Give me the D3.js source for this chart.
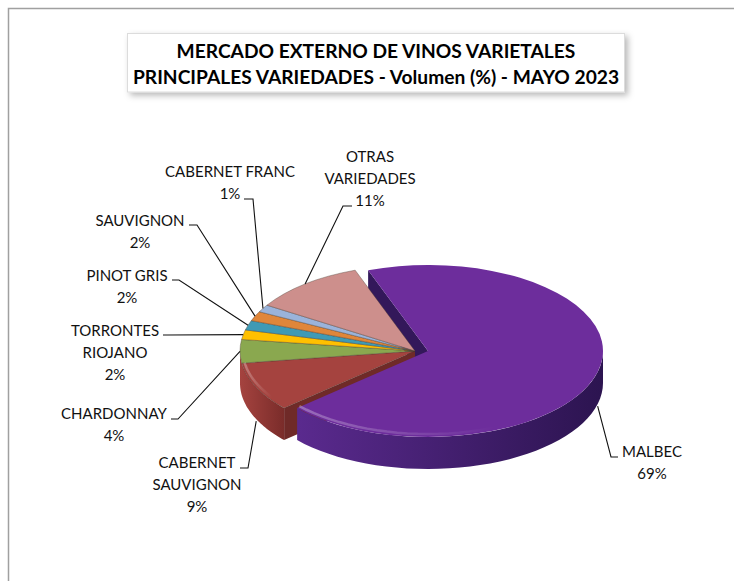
<!DOCTYPE html>
<html>
<head>
<meta charset="utf-8">
<script src="https://cdn.jsdelivr.net/npm/d3@7"></script>
<style>
body { margin: 0; background: #fff; }
svg { display: block; }
text { font-family: Lato, "Open Sans", sans-serif; fill: #111; }
.lab { font-size: 15px; }
.ttl { font-size: 19.2px; font-weight: 700; fill: #000; }
.leader { fill: none; stroke: #111; stroke-width: 1.1; }
</style>
</head>
<body>
<div id="chart"></div>
<script>
var categories = ["MALBEC", "CABERNET SAUVIGNON", "CHARDONNAY", "TORRONTES RIOJANO", "PINOT GRIS", "SAUVIGNON", "CABERNET FRANC", "OTRAS VARIEDADES"];
// the labels show them rounded
var values = [69, 9.3, 4.4, 1.8, 1.8, 1.8, 1.4, 10.5];
var titleLines = ["MERCADO EXTERNO DE VINOS VARIETALES", "PRINCIPALES VARIEDADES - Volumen (%) - MAYO 2023"];

var topColors = ["#6d2d9c", "#a5433f", "#8aa84f", "#ffc000", "#3f9ab5", "#e0863a", "#9ab3da", "#cd8f8c"];
var wallColors = [["#5a2a8e", "#2c1450"], ["#a5433f", "#7a2c2a"]];
var faceColors = ["#33185a", "#6f2a28"];

// label lines + leader elbow/end, in page pixels
var labelLayout = [
  {lines: ["MALBEC"], x: 652, y: 457, elbow: [611, 457], end: [618, 457]},
  {lines: ["CABERNET", "SAUVIGNON"], x: 197, y: 468, elbow: [248, 468], end: [240, 468]},
  {lines: ["CHARDONNAY"], x: 114, y: 419, elbow: [178, 419], end: [171, 419]},
  {lines: ["TORRONTES", "RIOJANO"], x: 115, y: 336, elbow: [168, 335], end: [163, 335]},
  {lines: ["PINOT GRIS"], x: 127, y: 281, elbow: [179, 280], end: [172, 280]},
  {lines: ["SAUVIGNON"], x: 140, y: 226, elbow: [197, 225], end: [189, 225]},
  {lines: ["CABERNET FRANC"], x: 230, y: 177, elbow: [253, 199], end: [244, 199]},
  {lines: ["OTRAS", "VARIEDADES"], x: 370, y: 162, elbow: [343, 206], end: [352, 206]}
];

var width = 734, height = 581;
var cx = 415, cy = 351, explodeX = 13;
var rx = 175, ry = 86, depth = 32;
var lineH = 22;

var svg = d3.select("#chart").append("svg").attr("width", width).attr("height", height);
var defs = svg.append("defs");

var shadow = defs.append("filter").attr("id", "shadow").attr("x", "-5%").attr("y", "-20%").attr("width", "110%").attr("height", "150%");
shadow.append("feDropShadow").attr("dx", 3).attr("dy", 3).attr("stdDeviation", 3).attr("flood-color", "#000").attr("flood-opacity", 0.28);

wallColors.forEach(function(c, i) {
  var g = defs.append("linearGradient").attr("id", "wall" + i);
  g.append("stop").attr("offset", "0%").attr("stop-color", c[0]);
  g.append("stop").attr("offset", "100%").attr("stop-color", c[1]);
});
var shine = defs.append("linearGradient").attr("id", "shine");
shine.append("stop").attr("offset", "0%").attr("stop-color", "#fff").attr("stop-opacity", 0.3);
shine.append("stop").attr("offset", "65%").attr("stop-color", "#fff").attr("stop-opacity", 0);

// frame, only top and left edges show in the crop
svg.append("path").attr("d", "M8.5," + height + "V8.5H" + width).attr("fill", "none").attr("stroke", "#a0a0a0").attr("stroke-width", 1.5);

var pie = d3.pie().sort(null).startAngle(-20 * Math.PI / 180).endAngle(340 * Math.PI / 180);
var slices = pie(values);
var arc = d3.arc().innerRadius(0).outerRadius(rx);

function centerX(i) { return i === 0 ? cx + explodeX : cx; }
function rim(i, a, drop) {
  return [centerX(i) + rx * Math.sin(a), cy - ry * Math.cos(a) + (drop || 0)];
}
var rimLine = d3.line();

function wallPath(i, a0, a1) {
  var n = 40, pts = [];
  d3.range(n + 1).forEach(function(k) { pts.push(rim(i, a0 + (a1 - a0) * k / n)); });
  d3.range(n, -1, -1).forEach(function(k) { pts.push(rim(i, a0 + (a1 - a0) * k / n, depth)); });
  return rimLine(pts) + "Z";
}
function facePath(i, a) {
  var c = centerX(i);
  return rimLine([[c, cy], rim(i, a), rim(i, a, depth), [c, cy + depth]]) + "Z";
}
// only malbec and cabernet sauvignon have a wall that shows; the red one runs on to the far left
function drawWall(d, i) {
  var a0 = Math.max(d.startAngle, Math.PI / 2), a1 = i === 1 ? 3 * Math.PI / 2 : d.endAngle;
  svg.append("path").attr("d", wallPath(i, a0, a1)).attr("fill", "url(#wall" + i + ")");
}
function drawTop(d, i) {
  svg.append("path")
    .attr("transform", "translate(" + centerX(i) + "," + cy + ") scale(1," + (ry / rx) + ")")
    .attr("d", arc(d))
    .attr("fill", topColors[i])
    .attr("stroke", i === 0 ? "none" : "#4a3a30")
    .attr("stroke-opacity", 0.65)
    .attr("stroke-width", 0.8);
}
function drawBevel(d, i) {
  var a0 = Math.max(d.startAngle, Math.PI / 2), a1 = d.endAngle;
  var pts = d3.range(41).map(function(k) {
    var a = a0 + (a1 - a0) * k / 40;
    return [centerX(i) + (rx - 3) * Math.sin(a), cy - (ry - 3) * Math.cos(a)];
  });
  svg.append("path").attr("d", rimLine(pts)).attr("fill", "none").attr("stroke", "url(#shine)").attr("stroke-width", 2.5);
}

// back to front: the exploded slice's cut face, the rest of the pie, then the big slice
svg.append("path").attr("d", facePath(0, slices[0].startAngle)).attr("fill", faceColors[0]);
drawWall(slices[1], 1);
svg.append("path").attr("d", facePath(1, slices[1].startAngle)).attr("fill", faceColors[1]);
slices.forEach(function(d, i) { if (i > 0) drawTop(d, i); });
drawBevel(slices[1], 1);
drawWall(slices[0], 0);
drawTop(slices[0], 0);
drawBevel(slices[0], 0);

// leaders start on the rim at the middle of each slice
slices.forEach(function(d, i) {
  var mid = (d.startAngle + d.endAngle) / 2;
  var onWall = Math.cos(mid) < -0.2;
  var start = rim(i, mid, onWall ? depth + 2 : 0);
  var l = labelLayout[i];
  svg.append("path").attr("class", "leader").attr("d", rimLine([start, l.elbow, l.end]));
  l.lines.concat(Math.round(values[i]) + "%").forEach(function(t, k) {
    svg.append("text").attr("class", "lab").attr("x", l.x).attr("y", l.y + k * lineH).attr("text-anchor", "middle").text(t);
  });
});

// title box
svg.append("rect").attr("x", 127.5).attr("y", 33.5).attr("width", 497).attr("height", 58.5)
  .attr("fill", "#fff").attr("stroke", "#dcdcdc").attr("filter", "url(#shadow)");
titleLines.forEach(function(t, k) {
  svg.append("text").attr("class", "ttl").attr("x", 376).attr("y", 58 + k * 26).attr("text-anchor", "middle").text(t);
});
</script>
</body>
</html>
